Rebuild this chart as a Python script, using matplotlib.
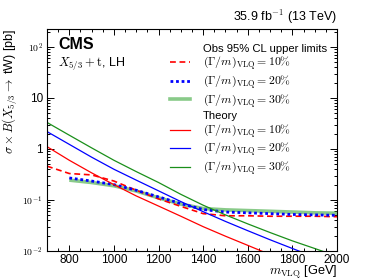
import matplotlib
matplotlib.use("Agg")
import matplotlib.pyplot as plt
from matplotlib.lines import Line2D
from matplotlib.ticker import FixedLocator, FixedFormatter, NullFormatter, LogLocator, MultipleLocator

plt.rcParams['font.family'] = ['Liberation Sans', 'DejaVu Sans']
plt.rcParams['mathtext.fontset'] = 'cm'

# theory cross sections (pb) vs mass (GeV)
mass_th = [700, 800, 900, 1000, 1100, 1200, 1300, 1400, 1500, 1600, 1700, 1800, 1900, 2000]
th_10 = [1.11, 0.60, 0.34, 0.20, 0.12, 0.076, 0.048, 0.030, 0.0195, 0.0129, 0.0085, 0.0057, 0.0038, 0.0026]
th_20 = [2.19, 1.23, 0.69, 0.40, 0.245, 0.151, 0.093, 0.059, 0.038, 0.025, 0.0166, 0.0112, 0.0076, 0.0052]
th_30 = [3.31, 1.86, 1.05, 0.60, 0.36, 0.22, 0.129, 0.079, 0.051, 0.034, 0.023, 0.0158, 0.0112, 0.0079]

# observed 95% CL upper limits
mass_obs10 = [700, 800, 900, 1000, 1100, 1200, 1300, 1400, 1500, 1600, 1700, 1800, 1900, 2000]
obs_10 = [0.46, 0.33, 0.31, 0.235, 0.155, 0.105, 0.075, 0.054, 0.049, 0.049, 0.048, 0.048, 0.048, 0.047]
mass_obs = [800, 900, 1000, 1100, 1200, 1300, 1400, 1500, 1600, 1700, 1800, 1900, 2000]
obs_20 = [0.27, 0.235, 0.20, 0.155, 0.115, 0.085, 0.065, 0.058, 0.056, 0.054, 0.052, 0.051, 0.050]
obs_30 = [0.245, 0.22, 0.19, 0.15, 0.11, 0.083, 0.068, 0.064, 0.062, 0.060, 0.058, 0.056, 0.055]

ytick_vals = [0.01, 0.1, 1, 10, 100]
ytick_labels = [r'$10^{-2}$', r'$10^{-1}$', '1', '10', r'$10^{2}$']

fig = plt.figure(figsize=(3.74, 2.8), dpi=100)
ax = fig.add_axes([0.1257, 0.1036, 0.7753, 0.7944])

red = '#ff0000'
blue = '#0000ff'
green = '#1a8f1a'

# observed
ax.plot(mass_obs, obs_30, color='#3aa83a', alpha=0.6, lw=2.6, solid_capstyle='butt')
ax.plot(mass_obs10, obs_10, color=red, lw=1.2, dashes=(3.5, 2.2))
ax.plot(mass_obs, obs_20, color=blue, lw=2.0, dashes=(1.0, 1.0))
# theory
ax.plot(mass_th, th_10, color=red, lw=0.9)
ax.plot(mass_th, th_20, color=blue, lw=0.9)
ax.plot(mass_th, th_30, color=green, lw=0.9)

ax.set_xlim(700, 2000)
ax.set_yscale('log')
ax.set_ylim(0.01, 10**2.36)

ax.xaxis.set_major_locator(MultipleLocator(200))
ax.xaxis.set_minor_locator(MultipleLocator(50))
ax.yaxis.set_major_locator(FixedLocator(ytick_vals))
ax.yaxis.set_major_formatter(FixedFormatter(ytick_labels))
ax.yaxis.set_minor_locator(LogLocator(base=10, subs=range(2, 10)))
ax.yaxis.set_minor_formatter(NullFormatter())

ax.tick_params(which='both', direction='in', top=True, right=True, width=0.7)
ax.tick_params(which='major', length=4, labelsize=8.5, pad=3)
ax.tick_params(axis='x', which='major', pad=2)
ax.tick_params(which='minor', length=2)
ax.tick_params(axis='y', which='major', length=5)
for lbl in ax.get_yticklabels():
    if lbl.get_text().startswith('$'):
        lbl.set_fontsize(7)
for sp in ax.spines.values():
    sp.set_linewidth(0.8)

ax.set_xlabel(r'$m_{\rm VLQ}$ [GeV]', fontsize=9.2, loc='right', labelpad=-1)
ax.set_ylabel(r'$\sigma \times B(X_{5/3} \rightarrow$ tW) [pb]', fontsize=9, loc='top', labelpad=2)

ax.text(1.0, 1.012, r'35.9 fb$^{-1}$ (13 TeV)', transform=ax.transAxes,
        ha='right', va='bottom', fontsize=9)
ax.text(0.038, 0.96, 'CMS', transform=ax.transAxes, ha='left', va='top',
        fontsize=11.5, fontweight='bold')
ax.text(0.038, 0.875, r'$X_{5/3} + \mathrm{t}$, LH', transform=ax.transAxes,
        ha='left', va='top', fontsize=9)

blank = Line2D([], [], linestyle='none')
handles = [
    blank,
    Line2D([], [], color=red, lw=1.2, dashes=(3.5, 2.2)),
    Line2D([], [], color=blue, lw=2.0, dashes=(1.0, 1.0)),
    Line2D([], [], color='#3aa83a', alpha=0.6, lw=2.6),
    blank,
    Line2D([], [], color=red, lw=0.9),
    Line2D([], [], color=blue, lw=0.9),
    Line2D([], [], color=green, lw=0.9),
]
labels = [
    'Obs 95% CL upper limits',
    r'$(\Gamma/m)_{\rm VLQ} = 10\%$',
    r'$(\Gamma/m)_{\rm VLQ} = 20\%$',
    r'$(\Gamma/m)_{\rm VLQ} = 30\%$',
    'Theory',
    r'$(\Gamma/m)_{\rm VLQ} = 10\%$',
    r'$(\Gamma/m)_{\rm VLQ} = 20\%$',
    r'$(\Gamma/m)_{\rm VLQ} = 30\%$',
]
leg = ax.legend(handles, labels, loc='upper left', bbox_to_anchor=(0.424, 0.932),
                frameon=False, fontsize=8.5, handlelength=1.7, handletextpad=1.1,
                labelspacing=0.13, borderpad=0, borderaxespad=0)
for t in (leg.get_texts()[0], leg.get_texts()[4]):
    t.set_fontsize(8.1)

fig.savefig('out.png', dpi=100)
